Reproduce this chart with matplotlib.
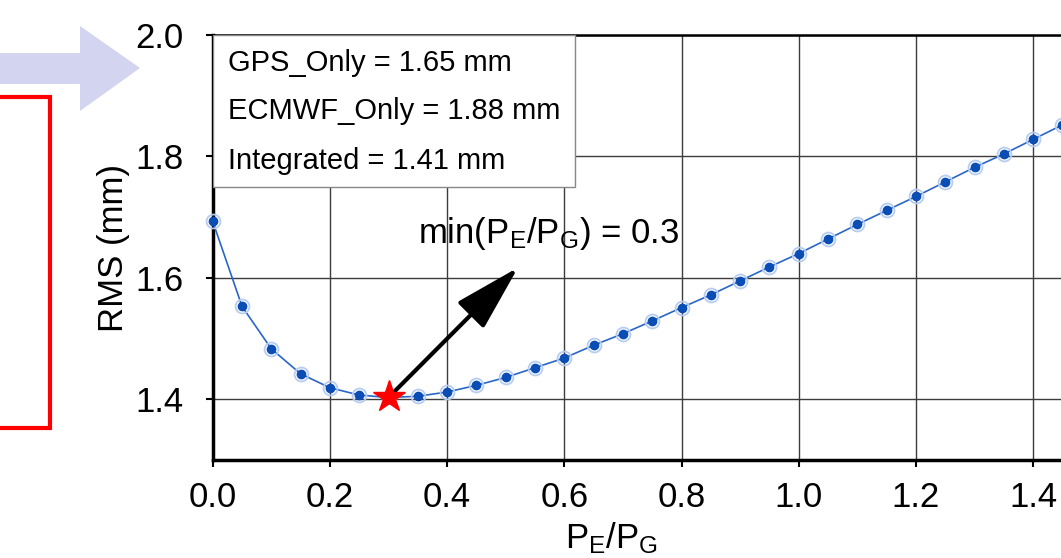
import numpy as np
import matplotlib
matplotlib.use('Agg')
import matplotlib.pyplot as plt
from matplotlib.patches import Rectangle, Polygon

plt.rcParams['font.family'] = ['Liberation Sans', 'DejaVu Sans']
plt.rcParams['mathtext.fontset'] = 'custom'
plt.rcParams['mathtext.rm'] = 'Liberation Sans'
plt.rcParams['mathtext.it'] = 'Liberation Sans'

# RMS of the integrated solution vs weight ratio P_E/P_G
ratio = [0.00, 0.05, 0.10, 0.15, 0.20, 0.25, 0.30, 0.35, 0.40, 0.45,
         0.50, 0.55, 0.60, 0.65, 0.70, 0.75, 0.80, 0.85, 0.90, 0.95,
         1.00, 1.05, 1.10, 1.15, 1.20, 1.25, 1.30, 1.35, 1.40, 1.45]
rms = [1.693, 1.553, 1.483, 1.442, 1.419, 1.407, 1.403, 1.405, 1.412, 1.423,
       1.436, 1.452, 1.468, 1.489, 1.508, 1.529, 1.551, 1.572, 1.595, 1.618,
       1.640, 1.664, 1.688, 1.711, 1.734, 1.758, 1.782, 1.804, 1.828, 1.852]

best_ratio = 0.3
best_rms = 1.403
box_lines = ['GPS_Only = 1.65 mm', 'ECMWF_Only = 1.88 mm', 'Integrated = 1.41 mm']

fig = plt.figure(figsize=(10.61, 5.58), dpi=100)
ax = fig.add_axes([0.2005, 0.1756, 0.7995, 0.7617])

# curve: thin line, dark dots with a pale ring
ax.plot(ratio, rms, color='#2a66c9', lw=1.2, zorder=3, clip_on=False)
ax.plot(ratio, rms, ls='none', marker='o', ms=10, mfc='none', mec='#b7cdf0',
        mew=1.3, zorder=3, clip_on=False)
ax.plot(ratio, rms, ls='none', marker='o', ms=6, mfc='#0a4db5', mec='#0a4db5',
        zorder=4, clip_on=False)

# minimum
ax.plot([best_ratio], [best_rms], marker='*', ms=24, color='#ff0000', mec='#ff0000',
        zorder=6)
ax.annotate('', xy=(0.521, 1.617), xytext=(best_ratio, best_rms),
            arrowprops=dict(arrowstyle='-|>,head_length=1.3,head_width=0.36',
                            lw=3, color='black', mutation_scale=32,
                            shrinkA=0, shrinkB=0), zorder=5)
ax.text(0.35, 1.658, r'min(P$_\mathrm{E}$/P$_\mathrm{G}$) = %.1f' % best_ratio,
        fontsize=25, va='baseline', ha='left', zorder=6)

# summary box in the upper left
ax.add_patch(Rectangle((0.0, 1.749), 0.618, 0.251, facecolor='white',
                       edgecolor='#888888', lw=1, zorder=5))
for yy, txt in zip([1.954, 1.875, 1.793], box_lines):
    ax.text(0.026, yy, txt, fontsize=21, va='center', ha='left', zorder=6)

ax.set_xlim(0, 1.4476)
ax.set_ylim(1.3, 2.0)
ax.set_xticks(np.arange(0, 1.41, 0.2))
ax.set_yticks([1.4, 1.6, 1.8, 2.0])
ax.xaxis.set_major_formatter(matplotlib.ticker.FormatStrFormatter('%.1f'))
ax.yaxis.set_major_formatter(matplotlib.ticker.FormatStrFormatter('%.1f'))
ax.tick_params(labelsize=25, direction='out', length=5, width=1.5)
ax.tick_params(axis='x', pad=10)
ax.tick_params(axis='y', pad=16)
ax.grid(True, color='#3c3c3c', lw=1)
ax.set_axisbelow(True)

for s in ['left', 'bottom']:
    ax.spines[s].set_linewidth(2.5)
ax.spines['top'].set_linewidth(1.8)
ax.spines['right'].set_visible(False)

ax.set_ylabel('RMS (mm)', fontsize=25, labelpad=4)
ax.set_xlabel(r'P$_\mathrm{E}$/P$_\mathrm{G}$', fontsize=25)
ax.xaxis.set_label_coords(0.47, -0.143, transform=ax.transAxes)
ax.xaxis.label.set_va('top')

# pale arrow and red frame on the left side
H = 558.0
W = 1061.0
arrow_px = [(0, 53), (80, 53), (80, 26), (140, 68), (80, 111), (80, 84), (0, 84)]
fig.patches.append(Polygon([(x / W, 1 - y / H) for x, y in arrow_px], closed=True,
                           facecolor='#d3d4f0', edgecolor='none',
                           transform=fig.transFigure, figure=fig))
fig.patches.append(Rectangle((-10 / W, 1 - 428 / H), 60 / W, (428 - 97) / H,
                             facecolor='none', edgecolor='#ff0000', lw=3,
                             transform=fig.transFigure, figure=fig))

fig.savefig('out.png', dpi=100)
